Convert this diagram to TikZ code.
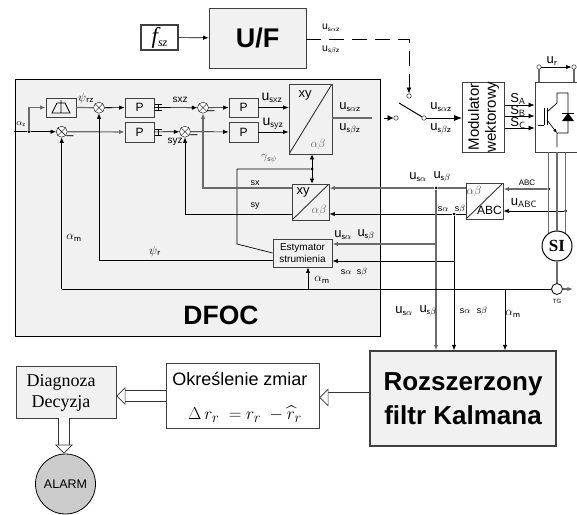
\documentclass[tikz,border=0pt]{standalone}
\usepackage{amsmath}
\usepackage{amssymb}
\usepackage{fontspec}
\setmainfont{Liberation Sans}
\newfontfamily\serifface{Liberation Serif}
\usetikzlibrary{calc,positioning,arrows.meta}
\definecolor{panelgray}{gray}{0.945}
\definecolor{wiregray}{gray}{0.42}
\definecolor{alarmgray}{gray}{0.8}
\tikzset{
    block/.style={draw=black!75,line width=0.9pt,shape=rectangle,inner sep=0pt,align=center},
    splitblock/.style={block,path picture={\draw[line width=0.9pt,black!80] (path picture bounding box.south west) -- (path picture bounding box.north east);}},
    sumnode/.style={draw,circle,fill=white,minimum size=11pt,inner sep=0pt,path picture={\draw (path picture bounding box.north west) -- (path picture bounding box.south east) (path picture bounding box.south west) -- (path picture bounding box.north east);}},
    contact/.style={draw,circle,fill=white,minimum size=4.5pt,inner sep=0pt},
    dotnode/.style={circle,fill=black,minimum size=3pt,inner sep=0pt},
    wire/.style={line width=0.7pt,-{Latex[length=5.5pt,width=4.5pt]}},
    plain/.style={line width=0.7pt},
    graywire/.style={wire,draw=wiregray,line width=1.2pt},
    grayplain/.style={plain,draw=wiregray,line width=1.2pt},
    hollow/.style={draw=black!80,line width=0.6pt,double=white,double distance=10pt,-{Triangle[length=9pt,width=18pt,fill=white,line width=0.7pt 0 0]}},
    lab/.style={inner sep=0pt,font=\fontsize{13}{14}\selectfont},
    tinylab/.style={inner sep=0pt,font=\fontsize{9}{10}\selectfont},
    bigu/.style={inner sep=0pt,font=\fontsize{14}{15}\selectfont},
}
\newcommand{\symsub}[2]{#1$_{\mathsf{#2}}$}
\begin{document}
\begin{tikzpicture}[x=1pt,y=-1pt]
    \useasboundingbox (0,0) rectangle (577,514);
    % panel
    \node[draw=black,line width=0.8pt,fill=panelgray,minimum width=365pt,minimum height=257pt,inner sep=0pt] (panel) at (197.5,207.5) {};
    \node[font=\bfseries\fontsize{26.5}{28}\selectfont] (dfoc) at (221,315) {DFOC};
    % blocks
    \node[block,minimum width=37pt,minimum height=25pt,line width=1.1pt,font=\serifface\itshape\fontsize{23}{24}\selectfont] (fsz) at (159.5,37.5) {f\raisebox{-3pt}{\fontsize{12}{13}\selectfont sz}};
    \node[block,fill=panelgray,minimum width=97pt,minimum height=60pt,font=\bfseries\fontsize{27}{28}\selectfont] (uf) at (257.5,38) {U/F};
    \node[block,minimum width=30pt,minimum height=19pt] (filter) at (61,107.5) {};
    \node[block,minimum width=29pt,minimum height=19pt,font=\fontsize{12}{13}\selectfont] (p1) at (139.5,107.5) {P};
    \node[block,minimum width=29pt,minimum height=20pt,font=\fontsize{12}{13}\selectfont] (p2) at (139.5,132) {P};
    \node[block,minimum width=29pt,minimum height=19pt,font=\fontsize{12}{13}\selectfont] (p3) at (243.5,107.5) {P};
    \node[block,minimum width=29pt,minimum height=20pt,font=\fontsize{12}{13}\selectfont] (p4) at (243.5,132) {P};
    \node[sumnode] (s1) at (61.7,131.7) {};
    \node[sumnode] (s2) at (99,107.7) {};
    \node[sumnode] (s3) at (203,107.7) {};
    \node[sumnode] (s4) at (185,131.7) {};
    \node[splitblock,fill=panelgray,minimum width=43pt,minimum height=70pt] (xybig) at (310.5,119) {};
    \node[splitblock,fill=panelgray,minimum width=37pt,minimum height=36pt] (xysmall) at (310.5,202) {};
    \node[block,fill=panelgray,minimum width=59pt,minimum height=28pt,font=\fontsize{10}{11.5}\selectfont] (est) at (302.5,253) {Estymator\\strumienia};
    \node[splitblock,fill=white,minimum width=37pt,minimum height=36pt] (abbox) at (484.5,201) {};
    \node[block,minimum width=42pt,minimum height=70pt] (mod) at (483.5,117) {};
    \node[rotate=90,align=center,inner sep=0pt,font=\fontsize{15}{17}\selectfont] (modtext) at (mod.center) {Modulator\\wektorowy};
    \node[block,minimum width=43pt,minimum height=70pt] (inv) at (556.5,117) {};
    \node[draw,circle,line width=1pt,minimum size=30pt,inner sep=0pt,font=\serifface\bfseries\fontsize{17}{18}\selectfont] (si) at (557,246) {SI};
    \node[draw,circle,fill=white,line width=0.8pt,minimum size=11pt,inner sep=0pt] (tg) at (557,289) {};
    \node[block,fill=panelgray,line width=1.4pt,minimum width=186pt,minimum height=95pt,font=\bfseries\fontsize{26}{34}\selectfont] (kalman) at (463,398.5) {Rozszerzony\\filtr Kalmana};
    \node[block,minimum width=153pt,minimum height=65pt] (zmiany) at (242.5,395.5) {};
    \node[block,fill=panelgray,minimum width=100pt,minimum height=52pt,font=\serifface\fontsize{18}{21}\selectfont] (diag) at (66,392) {};
    \node[inner sep=0pt,align=center,font=\serifface\fontsize{18}{21}\selectfont] (diagtext) at (61,392.5) {Diagnoza\\Decyzja};
    \node[draw,circle,fill=alarmgray,line width=0.8pt,minimum size=60pt,inner sep=0pt,font=\fontsize{12.5}{13}\selectfont] (alarm) at (65.5,484) {ALARM};
    \node[inner sep=0pt,font=\fontsize{18}{19}\selectfont] (zmianytitle) at (240,378.5) {Określenie zmiar};
    \node[inner sep=0pt,font=\fontsize{19}{20}\selectfont] (zmianyeq) at (245,414) {$\Delta\, r_r\;=r_r\;-\widehat{r}_r$};
    % switch contacts and junctions
    \node[contact] (swleft) at (396,118) {};
    \node[contact] (swright) at (424,118) {};
    \node[contact] (swtop) at (409,96) {};
    \node[contact] (urleft) at (539,67) {};
    \node[contact] (urright) at (574,67) {};
    \node[dotnode] (jalpha) at (29,131.7) {};
    \node[dotnode] (jgamma) at (312,169) {};
    \node[dotnode] (jua) at (436,188) {};
    \node[dotnode] (jsb) at (454,214) {};
    \node[dotnode] (jabc) at (si.122 |- 0,189) {};
    \node[dotnode] (juabc) at (si.56 |- 0,211) {};
    \coordinate (instart) at (14,131.7);
    \coordinate (dashcorner) at (409,39);
    \coordinate (ufout) at (306,39);
    \coordinate (jrotor) at (308,289);
    \coordinate (jkal) at (505,289);
    % connectors
    \draw[plain] (instart) -- (jalpha);
    \draw[wire] (jalpha) -- (s1);
    \draw[graywire] (jalpha) |- (filter.west);
    \draw[grayplain] (filter.east) -- (s2.west);
    \draw[wire] (s2) -- (p1);
    \draw[graywire] (s1) -- (p2);
    \draw[wire] (p1) -- (s3);
    \draw[wire] (p2) -- (s4);
    \draw[wire] (s3) -- (p3);
    \draw[wire] (s4) -- (p4);
    \draw[wire] (p3.east) -- (xybig.west |- p3.east);
    \draw[wire] (p4.east) -- (xybig.west |- p4.east);
    \draw[wire] (fsz) -- (uf);
    \draw[plain,dash pattern=on 15pt off 8pt,-{Latex[length=6pt,width=5pt]}] (ufout) -- (dashcorner) -- (swtop);
    \draw[grayplain] (xybig.east |- swleft) -- ++(40,0);
    \draw[wire,{Latex[length=6pt,width=6pt]}-] (swleft) -- ++(-12,0);
    \draw[plain,line width=1pt] (swright) -- (399,103);
    \draw[wire,-{Latex[length=8pt,width=6pt]}] (swright) -- (mod.west |- swright);
    \draw[wire,-{Latex[length=6pt,width=5pt]}] (mod.east |- 0,105) -- (inv.west |- 0,105);
    \draw[wire,-{Latex[length=6pt,width=5pt]}] (mod.east |- 0,116) -- (inv.west |- 0,116);
    \draw[wire,-{Latex[length=6pt,width=5pt]}] (mod.east |- 0,128) -- (inv.west |- 0,128);
    \draw[grayplain] (urleft) -- (urleft |- inv.north);
    \draw[grayplain] (urright) -- (urright |- inv.north);
    \draw[wire] (urleft) -- (urright);
    \draw[wire,{Latex[length=5pt,width=4.5pt]}-{Latex[length=5pt,width=4.5pt]}] (xybig.south -| jgamma) -- (xysmall.north -| jgamma);
    \draw[plain] (jgamma) -| (237,244) -- (est.west);
    \draw[graywire] (xysmall.west |- 0,188) -| (s3.south);
    \draw[wire] (xysmall.west |- 0,214) -| (s4.south);
    \draw[plain] (est.west |- 0,260) -| (99,260);
    \draw[wire] (99,260) -- (s2.south);
    \draw[graywire] (jua) -- (xysmall.east |- jua);
    \draw[wire] (jsb) -- (xysmall.east |- jsb);
    \draw[grayplain] (abbox.west |- jua) -- (jua);
    \draw[plain] (abbox.west |- jsb) -- (jsb);
    \draw[graywire] (jua |- 0,244) -- (est.east |- 0,244);
    \draw[wire] (jsb |- 0,261) -- (est.east |- 0,261);
    \draw[graywire] (jua) -- (jua |- kalman.north);
    \draw[wire] (jsb) -- (jsb |- kalman.north);
    \draw[wire] (jkal) -- (jkal |- kalman.north);
    \draw[plain] (tg.west) -- (61.7,289);
    \draw[wire] (61.7,289) -- (s1.south);
    \draw[wire] (jrotor) -- (est.south -| jrotor);
    \draw[graywire] (jabc) -- (abbox.east |- jabc);
    \draw[wire] (juabc) -- (abbox.east |- juabc);
    \draw[grayplain] (si.122) -- (si.122 |- inv.south);
    \draw[grayplain] (si.90) -- (si.90 |- inv.south);
    \draw[grayplain] (si.56) -- (si.56 |- inv.south);
    \draw[grayplain] (si.south) -- (tg.north);
    \draw[graywire] (tg.east) -- ++(10,0);
    \draw[hollow] (kalman.west |- 0,397.5) -- (zmiany.east |- 0,397.5);
    \draw[hollow] (zmiany.west |- 0,396) -- (diag.east |- 0,396);
    \draw[hollow] (diag.south -| 64,0) -- (alarm.north -| 64,0);
    % limiters behind the P blocks
    \foreach \py in {107.5,132} {
        \draw[line width=1pt] (155,\py-3) -- (162,\py-3) (155,\py+3) -- (162,\py+3);
        \draw[plain] (158.5,\py-3) -- (158.5,\py+3);
    }
    % transistor
    \draw[plain] (538,125) -- (544,125) (544,108) -- (544,125);
    \draw[line width=1pt] (547,108) -- (547,125);
    \draw[plain] (547,112) -- (557,103) -- (557,93) -- (568,93) -- (568,133) -- (557,133) -- (557,147);
    \draw[plain,-{Latex[length=4pt,width=3.5pt]}] (547,120) -- (557,133);
    \fill (562,121) -- (574,121) -- (568,113) -- cycle;
    \draw[plain] (562,113) -- (574,113);
    % filter symbol
    \draw[plain] (52,113) -- (57,103) -- (65,103) -- (70,113) -- cycle (61,100) -- (61,113);
    % texts
    \node[tinylab] (lalphaz) at (21,124) {\symsub{$\alpha$}{z}};
    \node[lab] (lpsirz) at (86,98) {\symsub{$\psi$}{rz}};
    \node[tinylab,font=\fontsize{10}{11}\selectfont] (lsxz) at (180,100) {sxz};
    \node[tinylab,font=\fontsize{10}{11}\selectfont] (lsyz) at (175,142) {syz};
    \node[lab] (lm1) at (70,137.5) {--};
    \node[lab] (lm2) at (109,110) {--};
    \node[lab] (lm3) at (194,137) {--};
    \node[lab] (lm4) at (211,113) {--};
    \node[bigu] (lusxz) at (272,98) {\symsub{u}{sxz}};
    \node[bigu] (lusyz) at (273,124) {\symsub{u}{syz}};
    \node[lab] (lxy1) at (305,95) {xy};
    \node[lab,text=black!60] (lab1) at (318,144) {$\alpha\beta$};
    \node[lab] (lxy2) at (303,192) {xy};
    \node[lab,text=black!60] (lab2) at (319,210) {$\alpha\beta$};
    \node[lab,text=black!70,font=\fontsize{12}{13}\selectfont] (lgamma) at (269,159) {$\gamma_{\mathsf{s}\psi}$};
    \node[lab] (lupa) at (350,107) {\symsub{u}{s\alpha z}};
    \node[lab] (lupb) at (350,129) {\symsub{u}{s\beta z}};
    \node[lab] (lswa) at (441,107) {\symsub{u}{s\alpha z}};
    \node[lab] (lswb) at (441,129) {\symsub{u}{s\beta z}};
    \node[tinylab,font=\fontsize{10.5}{11}\selectfont] (lufa) at (331,28) {\symsub{u}{s\alpha z}};
    \node[tinylab,font=\fontsize{10.5}{11}\selectfont] (lufb) at (331,50) {\symsub{u}{s\beta z}};
    \node[tinylab] (lsx) at (255,183) {sx};
    \node[tinylab] (lsy) at (255,206) {sy};
    \node[lab] (lua1) at (343,235) {\symsub{u}{s\alpha}};
    \node[lab] (lub1) at (366,235) {\symsub{u}{s\beta}};
    \node[tinylab] (lsa1) at (346,272) {s$\alpha$};
    \node[tinylab] (lsb1) at (362,272) {s$\beta$};
    \node[lab] (lam1) at (322,280) {\symsub{$\alpha$}{m}};
    \node[lab] (lam2) at (74,238) {\symsub{$\alpha$}{m}};
    \node[lab] (lpsir) at (155,251) {\symsub{$\psi$}{r}};
    \node[lab] (lua2) at (418,177) {\symsub{u}{s\alpha}};
    \node[lab] (lub2) at (442,177) {\symsub{u}{s\beta}};
    \node[tinylab] (lsa2) at (443,209) {s$\alpha$};
    \node[tinylab] (lsb2) at (460,209) {s$\beta$};
    \node[lab] (lua3) at (404,311) {\symsub{u}{s\alpha}};
    \node[lab] (lub3) at (428,311) {\symsub{u}{s\beta}};
    \node[tinylab] (lsa3) at (465,311) {s$\alpha$};
    \node[tinylab] (lsb3) at (482,311) {s$\beta$};
    \node[lab] (lam3) at (513,314) {\symsub{$\alpha$}{m}};
    \node[lab,text=black!70] (lab3) at (474,191) {$\alpha\beta$};
    \node[lab,font=\fontsize{12}{13}\selectfont] (labc1) at (489.5,210) {ABC};
    \node[tinylab,font=\fontsize{8}{9}\selectfont] (labc2) at (527,183) {ABC};
    \node[lab] (luabc) at (524,203) {\symsub{u}{ABC}};
    \node[lab] (lsa) at (518,99) {\symsub{S}{A}};
    \node[lab] (lsb) at (518,111) {\symsub{S}{B}};
    \node[lab] (lsc) at (518,123) {\symsub{S}{C}};
    \node[lab] (lur) at (552,61) {\symsub{u}{r}};
    \node[inner sep=0pt,font=\fontsize{6}{7}\selectfont] (ltg) at (557,301) {TG};
\end{tikzpicture}
\end{document}
